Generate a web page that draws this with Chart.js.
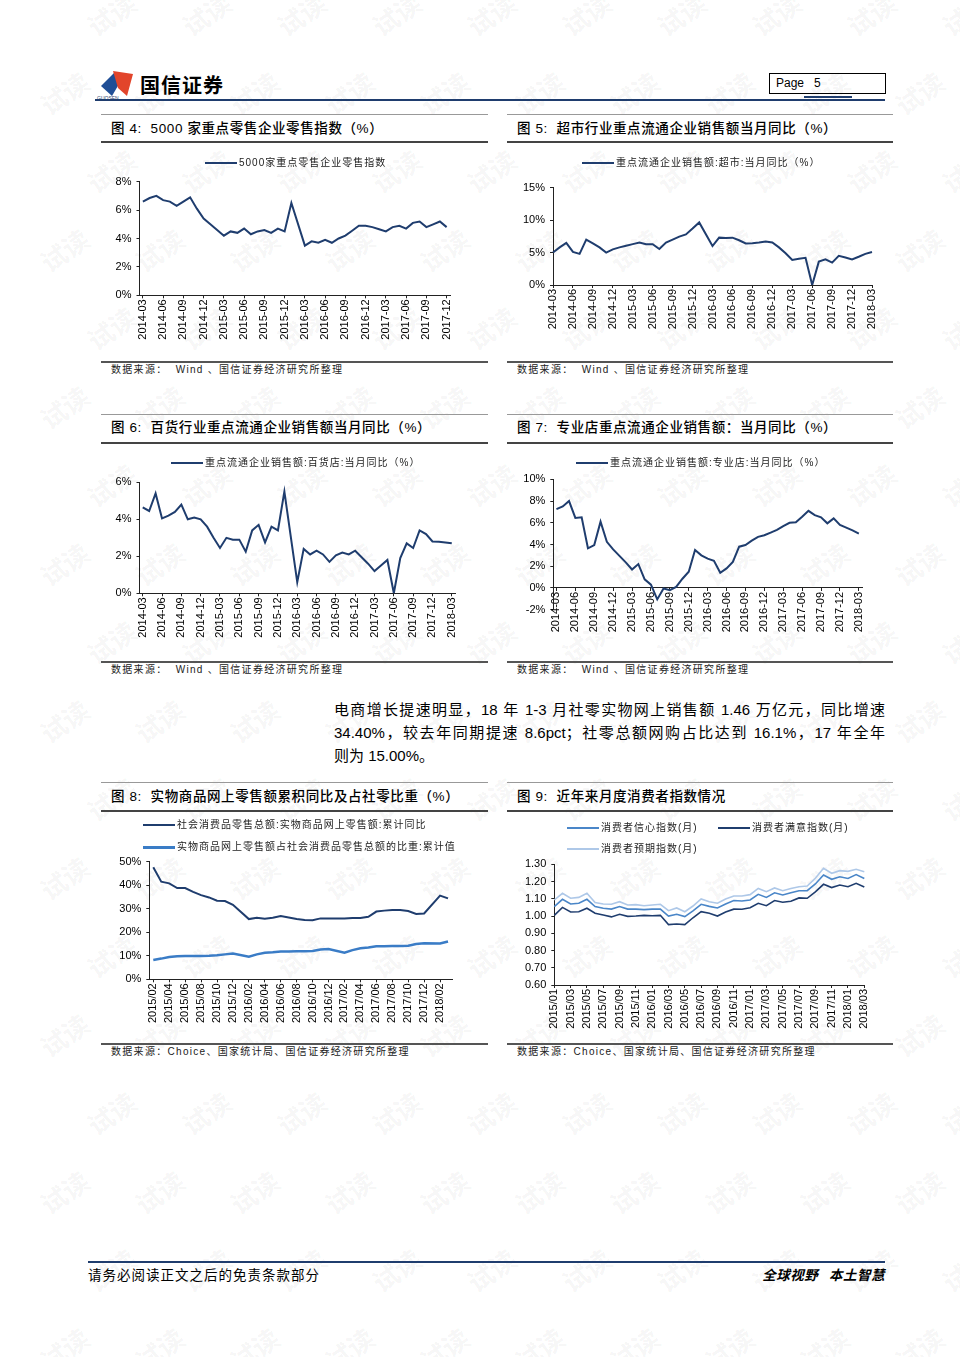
<!DOCTYPE html>
<html>
<head>
<meta charset="utf-8">
<script src="https://cdn.jsdelivr.net/npm/chart.js@4.4.0/dist/chart.umd.min.js"></script>
<style>
body { margin: 0; background: #fff; }
#page { position: relative; width: 960px; height: 1357px; overflow: hidden; font-family: "Liberation Sans", "Noto Sans CJK SC", sans-serif; color: #000; }
.ln { position: absolute; }
.ttl { position: absolute; font-size: 13.5px; line-height: 16px; white-space: nowrap; letter-spacing: 0.6px; font-weight: 500; }
.src { position: absolute; font-size: 10px; line-height: 12px; white-space: nowrap; color: #222; letter-spacing: 1.3px; }
.lg { position: absolute; font-size: 10px; line-height: 12px; white-space: nowrap; color: #222; letter-spacing: 1px; }
.box { position: absolute; }
.wm { position: absolute; font-family: "Noto Sans CJK SC", sans-serif; font-size: 26px; font-weight: bold; color: rgba(0,0,0,0.05); transform: rotate(-35deg); white-space: nowrap; pointer-events: none; }
.para { position: absolute; left: 334px; width: 551px; font-size: 15px; line-height: 23px; }
.para div { text-align: justify; text-align-last: justify; white-space: nowrap; }
.para div.last { text-align-last: left; }
</style>
</head>
<body>
<div id="page">
  <div id="wm"></div>

  <!-- 页眉 -->
  <svg class="ln" style="left:96px;top:66px" width="44" height="36">
    <polygon points="5,20 19,6 23,18 16,30" fill="#1f4e96"/>
    <polygon points="17,5 37,8 31,30 22,22" fill="#e2452b"/>
    <text x="1" y="34" font-size="5" font-family="Liberation Sans" fill="#1f3d6e">GUOSEN</text>
  </svg>
  <div class="ln" style="left:140px;top:72px;font-size:20px;font-weight:bold;letter-spacing:1px;font-family:'Noto Sans CJK SC';line-height:26px;">国信证券</div>
  <div class="ln" style="left:769px;top:73px;width:115px;height:19px;border:1px solid #000;font-size:12px;line-height:19px;"><span style="margin-left:6px">Page&nbsp;&nbsp;&nbsp;5</span></div>
  <div class="ln" style="left:804px;top:96px;width:48px;height:2px;background:#1f3d6e"></div>
  <div class="ln" style="left:95px;top:99px;width:790px;height:2px;background:#1f3d6e"></div>

  <!-- 图4 / 图5 -->
  <div class="ln" style="left:101px;top:114px;width:387px;height:1px;background:#999"></div>
  <div class="ln" style="left:507px;top:114px;width:386px;height:1px;background:#999"></div>
  <div class="ttl" style="left:111px;top:121px">图 4:&nbsp; 5000 家重点零售企业零售指数（%）</div>
  <div class="ttl" style="left:517px;top:121px">图 5:&nbsp; 超市行业重点流通企业销售额当月同比（%）</div>
  <div class="ln" style="left:101px;top:141px;width:387px;height:1.5px;background:#444"></div>
  <div class="ln" style="left:507px;top:141px;width:386px;height:1.5px;background:#444"></div>
  <div class="box" id="c4" style="left:101px;top:143px;width:387px;height:212px"><canvas></canvas></div>
  <div class="box" id="c5" style="left:507px;top:143px;width:386px;height:212px"><canvas></canvas></div>
  <div class="ln" style="left:101px;top:361px;width:387px;height:1.5px;background:#555"></div>
  <div class="ln" style="left:507px;top:361px;width:386px;height:1.5px;background:#555"></div>
  <div class="src" style="left:111px;top:364px">数据来源：&nbsp; Wind 、国信证券经济研究所整理</div>
  <div class="src" style="left:517px;top:364px">数据来源：&nbsp; Wind 、国信证券经济研究所整理</div>

  <!-- 图6 / 图7 -->
  <div class="ln" style="left:101px;top:414px;width:387px;height:1px;background:#999"></div>
  <div class="ln" style="left:507px;top:414px;width:386px;height:1px;background:#999"></div>
  <div class="ttl" style="left:111px;top:420px">图 6:&nbsp; 百货行业重点流通企业销售额当月同比（%）</div>
  <div class="ttl" style="left:517px;top:420px">图 7:&nbsp; 专业店重点流通企业销售额：当月同比（%）</div>
  <div class="ln" style="left:101px;top:442px;width:387px;height:1.5px;background:#444"></div>
  <div class="ln" style="left:507px;top:442px;width:386px;height:1.5px;background:#444"></div>
  <div class="box" id="c6" style="left:101px;top:443px;width:387px;height:212px"><canvas></canvas></div>
  <div class="box" id="c7" style="left:507px;top:443px;width:386px;height:212px"><canvas></canvas></div>
  <div class="ln" style="left:101px;top:661px;width:387px;height:1.5px;background:#555"></div>
  <div class="ln" style="left:507px;top:661px;width:386px;height:1.5px;background:#555"></div>
  <div class="src" style="left:111px;top:664px">数据来源：&nbsp; Wind 、国信证券经济研究所整理</div>
  <div class="src" style="left:517px;top:664px">数据来源：&nbsp; Wind 、国信证券经济研究所整理</div>

  <!-- 正文 -->
  <div class="para" style="top:698px">
    <div>电商增长提速明显，18 年 1-3 月社零实物网上销售额 1.46 万亿元，同比增速</div>
    <div>34.40%，较去年同期提速 8.6pct；社零总额网购占比达到 16.1%，17 年全年</div>
    <div class="last">则为 15.00%。</div>
  </div>

  <!-- 图8 / 图9 -->
  <div class="ln" style="left:101px;top:782px;width:387px;height:1px;background:#999"></div>
  <div class="ln" style="left:507px;top:782px;width:386px;height:1px;background:#999"></div>
  <div class="ttl" style="left:111px;top:789px">图 8:&nbsp; 实物商品网上零售额累积同比及占社零比重（%）</div>
  <div class="ttl" style="left:517px;top:789px">图 9:&nbsp; 近年来月度消费者指数情况</div>
  <div class="ln" style="left:101px;top:810px;width:387px;height:1.5px;background:#444"></div>
  <div class="ln" style="left:507px;top:810px;width:386px;height:1.5px;background:#444"></div>
  <div class="box" id="c8" style="left:101px;top:811px;width:387px;height:229px"><canvas></canvas></div>
  <div class="box" id="c9" style="left:507px;top:811px;width:386px;height:229px"><canvas></canvas></div>
  <div class="ln" style="left:101px;top:1043px;width:387px;height:1.5px;background:#555"></div>
  <div class="ln" style="left:507px;top:1043px;width:386px;height:1.5px;background:#555"></div>
  <div class="src" style="left:111px;top:1046px">数据来源：Choice、国家统计局、国信证券经济研究所整理</div>
  <div class="src" style="left:517px;top:1046px">数据来源：Choice、国家统计局、国信证券经济研究所整理</div>

  <!-- 页脚 -->
  <div class="ln" style="left:88px;top:1261px;width:797px;height:1.5px;background:#1f3d6e"></div>
  <div class="ln" style="left:88px;top:1266px;font-size:13.5px;line-height:16px;letter-spacing:1px;font-family:'Noto Sans CJK SC'">请务必阅读正文之后的免责条款部分</div>
  <div class="ln" style="left:745px;top:1266px;width:140px;text-align:right;font-size:13.5px;line-height:16px;font-weight:bold;font-style:italic;letter-spacing:0.5px;font-family:'Noto Sans CJK SC';white-space:nowrap">全球视野&nbsp;&nbsp; 本土智慧</div>
</div>

<script>
// ---- 数据 ----
// 图4 5000家重点零售企业零售指数 (%), 2014-03 起逐月
const retail5000 = [
  6.6, 6.85, 7.0, 6.7, 6.6, 6.3, 6.6, 6.9, 6.1, 5.4,
  5.0, 4.6, 4.2, 4.5, 4.4, 4.7, 4.3, 4.5, 4.6, 4.4, 4.7, 4.5,
  6.5, null, 3.5, 3.8, 3.7, 3.9, 3.7, 4.0, 4.2, 4.55, 4.9, 4.9,
  4.8, 4.65, 4.5, 4.8, 4.9, 4.7, 5.1, 5.2, 4.8, 5.0, 5.2, 4.8
];
// 图5 超市 当月同比 (%), 2014-03 起
const superMkt = [
  5.0, 5.8, 6.5, 5.1, 4.8, 7.0, 6.4, 5.8, 5.0, 5.5,
  5.8, 6.05, 6.3, 6.55, 6.3, 6.3, 5.55, 6.55, 7.0, 7.45, 7.8, 8.7,
  9.65, null, 6.0, 7.3, 7.25, 7.3, 6.9, 6.4, 6.45, 6.55, 6.7, 6.55,
  5.8, 4.9, 3.85, 4.05, 4.2, 0.0, 3.6, 3.95, 3.45, 4.5, 4.25, 3.95,
  4.35, 4.8, 5.1
];
// 图6 百货店 当月同比 (%), 2014-03 起
const deptStore = [
  4.65, 4.45, 5.4, 4.05, 4.2, 4.4, 4.8, 4.0, 4.1, 4.0,
  3.6, 3.0, 2.45, 3.0, 2.9, 2.9, 2.25, 3.4, 3.7, 2.75, 3.6, 3.4,
  5.5, null, 0.6, 2.4, 2.1, 2.3, 2.1, 1.7, 2.05, 2.2, 2.1, 2.3,
  1.95, 1.6, 1.2, 1.5, 1.8, 0.0, 1.9, 2.7, 2.45, 3.4, 3.2, 2.8,
  2.78, 2.75, 2.7
];
// 图7 专业店 当月同比 (%), 2014-03 起
const specialty = [
  7.25, 7.5, 8.0, 6.45, 6.5, 3.65, 3.95, 6.1, 4.25, 3.55,
  2.95, 2.35, 1.7, 2.2, 0.8, 0.3, -1.05, -0.05, -0.2, 0.1, 0.85, 1.5,
  3.5, 3.0, 2.7, 2.5, 1.4, 1.8, 2.4, 3.8, 3.95, 4.35, 4.7, 4.85,
  5.1, 5.35, 5.7, 6.0, 6.05, 6.55, 7.1, 6.7, 6.5, 5.95, 6.4, 5.8,
  5.55, 5.3, 5.0
];
// 图8 2015/02 起逐月 (1月无单独数据)
const onlineYoY = [
  47.6, 41.5, 40.8, 38.8, 38.8, 37.2, 35.8, 34.8, 33.4, 33.3, 31.7,
  null, 25.6, 26.2, 25.8, 26.2, 26.9, 26.3, 25.6, 25.2, 25.1, 25.9, 25.8,
  null, 25.8, 26.1, 26.1, 26.6, 28.8, 29.2, 29.5, 29.5, 29.0, 27.8, 28.0,
  null, 35.6, 34.4
];
const onlineShare = [
  8.2, 8.8, 9.5, 9.8, 9.9, 9.9, 9.9, 10.0, 10.2, 10.6, 11.0,
  null, 9.6, 10.6, 11.3, 11.5, 11.8, 11.8, 11.9, 11.9, 12.0, 12.7, 12.9,
  null, 11.3, 12.4, 13.2, 13.5, 14.0, 14.0, 14.2, 14.2, 14.3, 15.0, 15.3,
  null, 15.2, 16.1
];
// 图9 消费者指数, 2015/01 起逐月
const confidence = [
  1.055, 1.097, 1.07, 1.074, 1.097, 1.055, 1.045, 1.04, 1.055, 1.04, 1.04, 1.037,
  1.04, 1.04, 1.0, 1.01, 0.997, 1.03, 1.068, 1.056, 1.047, 1.07, 1.09, 1.087,
  1.093, 1.126, 1.108, 1.135, 1.122, 1.135, 1.147, 1.147, 1.186, 1.238, 1.213, 1.228,
  1.218, 1.24, 1.218
];
const satisfaction = [
  1.004, 1.05, 1.023, 1.025, 1.045, 1.016, 1.006, 0.995, 1.01, 0.998, 1.0, 1.004,
  1.002, 1.004, 0.95, 0.954, 0.95, 0.99, 1.025, 1.016, 1.0, 1.023, 1.04, 1.039,
  1.048, 1.074, 1.06, 1.09, 1.08, 1.086, 1.105, 1.103, 1.14, 1.184, 1.165, 1.18,
  1.17, 1.19, 1.168
];
const expectation = [
  1.093, 1.132, 1.103, 1.108, 1.132, 1.078, 1.07, 1.068, 1.083, 1.064, 1.066, 1.06,
  1.064, 1.068, 1.031, 1.047, 1.025, 1.058, 1.099, 1.083, 1.074, 1.099, 1.116, 1.116,
  1.124, 1.16, 1.141, 1.163, 1.147, 1.16, 1.17, 1.174, 1.219, 1.277, 1.248, 1.263,
  1.259, 1.271, 1.257
];

const NAVY = '#1f3d6e';
const MID = '#4a86c8';
const LIGHT = '#aec8e8';
const AXIS = '#222';
const FONT = '"Liberation Sans", "Noto Sans CJK SC", sans-serif';

Chart.defaults.font.family = FONT;

// 月份标签
function monthLabels(y0, m0, n, sep) {
  const out = [];
  for (let i = 0; i < n; i++) {
    const t = m0 - 1 + i;
    out.push((y0 + Math.floor(t / 12)) + sep + String(t % 12 + 1).padStart(2, '0'));
  }
  return out;
}

function addLegend(x, y, color, text, lw) {
  const page = document.getElementById('page');
  const bar = document.createElement('div');
  bar.className = 'ln';
  bar.style.cssText = `left:${x}px;top:${y - 1}px;width:32px;height:${lw}px;background:${color}`;
  page.appendChild(bar);
  const t = document.createElement('div');
  t.className = 'lg';
  t.style.left = (x + 34) + 'px';
  t.style.top = (y - 6) + 'px';
  t.textContent = text;
  page.appendChild(t);
}

function makeChart(id, o) {
  const canvas = document.querySelector('#' + id + ' canvas');
  return new Chart(canvas, {
    type: 'line',
    data: {
      labels: o.labels,
      datasets: o.series.map(s => ({
        label: s.name,
        data: s.data,
        borderColor: s.color,
        backgroundColor: s.color,
        borderWidth: s.width,
        pointRadius: 0,
        tension: 0,
        spanGaps: true,
        fill: false
      }))
    },
    options: {
      responsive: true,
      maintainAspectRatio: false,
      animation: false,
      layout: { padding: { top: o.pt, right: o.pr, bottom: o.pb || 0, left: 0 } },
      plugins: { legend: { display: false }, tooltip: { enabled: false } },
      scales: {
        x: {
          position: o.xAtZero ? { y: 0 } : 'bottom',
          offset: o.offset,
          grid: {
            drawOnChartArea: false,
            tickLength: 3,
            color: ctx => (ctx.index % o.every === 0 ? AXIS : 'rgba(0,0,0,0)')
          },
          border: { color: AXIS, width: 1 },
          ticks: {
            autoSkip: false,
            maxRotation: 90,
            minRotation: 90,
            padding: 1,
            color: '#000',
            font: { size: 11 },
            callback: (v, i) => (i % o.every === 0 ? o.labels[i] : '')
          },
          afterFit: s => { if (!o.xAtZero) s.height = o.hx; }
        },
        y: {
          min: o.min,
          max: o.max,
          grid: { drawOnChartArea: false, tickLength: 3, color: AXIS },
          border: { color: AXIS, width: 1 },
          ticks: {
            stepSize: o.step,
            padding: 5,
            color: '#000',
            font: { size: 11 },
            callback: o.fmt
          },
          afterFit: s => { s.width = o.wy; }
        }
      }
    }
  });
}

const pct = v => v + '%';

// 图4
const lab4 = monthLabels(2014, 3, retail5000.length, '-');
makeChart('c4', {
  labels: lab4, every: 3, offset: true,
  series: [{ name: '5000家重点零售企业零售指数', data: retail5000, color: NAVY, width: 2 }],
  min: 0, max: 8, step: 2, fmt: pct,
  wy: 38.5, pr: 38, pt: 38.7, hx: 59.7
});
addLegend(205, 163, NAVY, '5000家重点零售企业零售指数', 2);

// 图5
const lab5 = monthLabels(2014, 3, superMkt.length, '-');
makeChart('c5', {
  labels: lab5, every: 3, offset: false,
  series: [{ name: '重点流通企业销售额:超市:当月同比（%）', data: superMkt, color: NAVY, width: 2 }],
  min: 0, max: 15, step: 5, fmt: pct,
  wy: 46, pr: 21, pt: 44.7, hx: 70
});
addLegend(582, 163, NAVY, '重点流通企业销售额:超市:当月同比（%）', 2);

// 图6
const lab6 = monthLabels(2014, 3, deptStore.length, '-');
makeChart('c6', {
  labels: lab6, every: 3, offset: true,
  series: [{ name: '重点流通企业销售额:百货店:当月同比（%）', data: deptStore, color: NAVY, width: 2 }],
  min: 0, max: 6, step: 2, fmt: pct,
  wy: 38.5, pr: 33, pt: 39.3, hx: 61.7
});
addLegend(171, 463, NAVY, '重点流通企业销售额:百货店:当月同比（%）', 2);

// 图7
const lab7 = monthLabels(2014, 3, specialty.length, '-');
makeChart('c7', {
  labels: lab7, every: 3, offset: true, xAtZero: true,
  series: [{ name: '重点流通企业销售额:专业店:当月同比（%）', data: specialty, color: NAVY, width: 2 }],
  min: -2, max: 10, step: 2, fmt: pct,
  wy: 46.3, pr: 31, pt: 36.3, pb: 45.3
});
addLegend(576, 463, NAVY, '重点流通企业销售额:专业店:当月同比（%）', 2);

// 图8
const lab8 = monthLabels(2015, 2, onlineYoY.length, '/');
makeChart('c8', {
  labels: lab8, every: 2, offset: true,
  series: [
    { name: '社会消费品零售总额:实物商品网上零售额:累计同比', data: onlineYoY, color: NAVY, width: 2 },
    { name: '实物商品网上零售额占社会消费品零售总额的比重:累计值', data: onlineShare, color: '#3a7cc6', width: 2.5 }
  ],
  min: 0, max: 50, step: 10, fmt: pct,
  wy: 48.3, pr: 36, pt: 50.7, hx: 60.7
});
addLegend(143, 825, NAVY, '社会消费品零售总额:实物商品网上零售额:累计同比', 2);
addLegend(143, 847, '#3a7cc6', '实物商品网上零售额占社会消费品零售总额的比重:累计值', 2.5);

// 图9
const lab9 = monthLabels(2015, 1, confidence.length, '/');
makeChart('c9', {
  labels: lab9, every: 2, offset: false,
  series: [
    { name: '消费者信心指数(月)', data: confidence, color: MID, width: 1.6 },
    { name: '消费者满意指数(月)', data: satisfaction, color: NAVY, width: 1.6 },
    { name: '消费者预期指数(月)', data: expectation, color: LIGHT, width: 1.6 }
  ],
  min: 0.6, max: 1.3, step: 0.1, fmt: v => v.toFixed(2),
  wy: 47.3, pr: 28.7, pt: 53.3, hx: 55
});
addLegend(567, 828, MID, '消费者信心指数(月)', 1.6);
addLegend(718, 828, NAVY, '消费者满意指数(月)', 1.6);
addLegend(567, 849, LIGHT, '消费者预期指数(月)', 1.6);

// 水印 “试读”
(function () {
  const wm = document.getElementById('wm');
  for (let r = 0; r < 18; r++) {
    const y = -5 + r * 78.5;
    const shift = r % 2 === 0 ? 85 : 38;
    for (let c = 0; c < 11; c++) {
      const s = document.createElement('div');
      s.className = 'wm';
      s.style.left = (shift + c * 95) + 'px';
      s.style.top = y + 'px';
      s.textContent = '试读';
      wm.appendChild(s);
    }
  }
})();
</script>
</body>
</html>
